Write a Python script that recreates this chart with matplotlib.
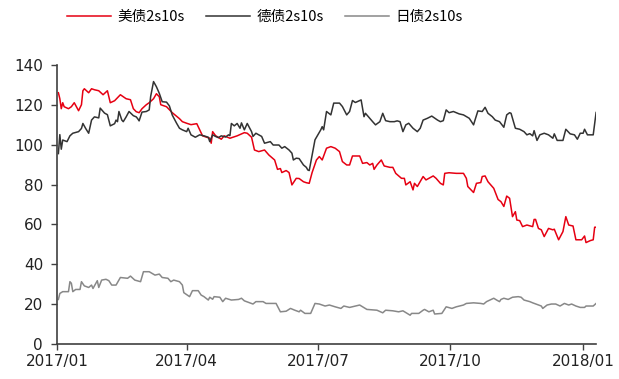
import matplotlib
matplotlib.use("Agg")
import matplotlib.pyplot as plt
import pandas as pd

# US Treasury 2s10s spread (bp)
us_dates = [
    "2017-01-02", "2017-01-03", "2017-01-04", "2017-01-05", "2017-01-06", "2017-01-09",
    "2017-01-11", "2017-01-13", "2017-01-16", "2017-01-18", "2017-01-19", "2017-01-20",
    "2017-01-23", "2017-01-25", "2017-01-27", "2017-01-30", "2017-02-02", "2017-02-05",
    "2017-02-07", "2017-02-10", "2017-02-14", "2017-02-18", "2017-02-21", "2017-02-23",
    "2017-02-25", "2017-02-27", "2017-03-01", "2017-03-04", "2017-03-06", "2017-03-09",
    "2017-03-11", "2017-03-13", "2017-03-14", "2017-03-18", "2017-03-22", "2017-03-27",
    "2017-03-29", "2017-04-01", "2017-04-04", "2017-04-08", "2017-04-10", "2017-04-12",
    "2017-04-17", "2017-04-18", "2017-04-19", "2017-04-21", "2017-04-25", "2017-04-27",
    "2017-05-01", "2017-05-03", "2017-05-06", "2017-05-11", "2017-05-13", "2017-05-16",
    "2017-05-18", "2017-05-21", "2017-05-25", "2017-05-28", "2017-06-01", "2017-06-03",
    "2017-06-05", "2017-06-06", "2017-06-09", "2017-06-11", "2017-06-13", "2017-06-16",
    "2017-06-18", "2017-06-21", "2017-06-23", "2017-06-25", "2017-06-27", "2017-06-30",
    "2017-07-02", "2017-07-04", "2017-07-07", "2017-07-10", "2017-07-13", "2017-07-16",
    "2017-07-18", "2017-07-21", "2017-07-23", "2017-07-25", "2017-07-27", "2017-07-30",
    "2017-08-01", "2017-08-04", "2017-08-06", "2017-08-08", "2017-08-09", "2017-08-11",
    "2017-08-14", "2017-08-16", "2017-08-20", "2017-08-22", "2017-08-24", "2017-08-28",
    "2017-08-30", "2017-08-31", "2017-09-03", "2017-09-05", "2017-09-06", "2017-09-08",
    "2017-09-12", "2017-09-14", "2017-09-19", "2017-09-21", "2017-09-24", "2017-09-26",
    "2017-09-27", "2017-09-30", "2017-10-05", "2017-10-10", "2017-10-12", "2017-10-13",
    "2017-10-17", "2017-10-19", "2017-10-22", "2017-10-23", "2017-10-25", "2017-10-27",
    "2017-10-31", "2017-11-03", "2017-11-05", "2017-11-07", "2017-11-09", "2017-11-11",
    "2017-11-13", "2017-11-15", "2017-11-16", "2017-11-18", "2017-11-20", "2017-11-23",
    "2017-11-27", "2017-11-28", "2017-11-29", "2017-12-01", "2017-12-03", "2017-12-05",
    "2017-12-08", "2017-12-11", "2017-12-12", "2017-12-15", "2017-12-18", "2017-12-20",
    "2017-12-22", "2017-12-25", "2017-12-27", "2017-12-31", "2018-01-02", "2018-01-03",
    "2018-01-06", "2018-01-08", "2018-01-09", "2018-01-10",
]
us_values = [
    126, 123, 118, 121, 119, 118,
    119, 121, 117, 120, 127, 128,
    126, 128, 127.5, 127, 125, 127,
    121, 122, 125, 123, 122.5, 118,
    116.5, 116, 118, 120, 121, 123,
    125.5, 124, 120, 119, 116, 113,
    111.5, 110.7, 110, 110.5, 107.4, 104.4,
    103.2, 100.7, 106.5, 104.5, 102.7, 104.4,
    103.2, 103.7, 104.4, 106, 105.7, 103.7,
    97.3, 96.5, 97.3, 94.8, 92.3, 87.6,
    88, 86, 87, 86, 79.8, 83.1,
    83, 81.4, 80.9, 80.6, 86, 92.3,
    94, 92.3, 98.2, 99, 98.2, 96.5,
    91.5, 89.8, 89.8, 94.3, 94.3, 94.3,
    90.6, 91, 89.8, 90.6, 87.6, 89.8,
    92.3, 89.3, 88.6, 88.6, 85.6, 83.1,
    83.1, 79.8, 81.4, 77.3, 80.6, 79,
    84, 82.3, 84.3, 83.1, 80.6, 79.8,
    85.6, 85.9, 85.6, 85.6, 83.1, 79,
    76, 80.6, 81, 84, 84.3, 81.4,
    78.1, 72.5, 71.4, 69, 74.2, 73.1,
    63.9, 66.4, 62.2, 61.9, 58.9, 59.7,
    58.9, 62.5, 62.5, 58, 57.3, 53.9,
    58, 57.3, 57.6, 52.3, 56.4, 63.9,
    59.7, 59.2, 52.3, 52.3, 54.2, 50.9,
    51.9, 52.3, 58.6, 58.6,
]

# German Bund 2s10s spread (bp)
de_dates = [
    "2017-01-02", "2017-01-03", "2017-01-04", "2017-01-05", "2017-01-08", "2017-01-10",
    "2017-01-12", "2017-01-16", "2017-01-18", "2017-01-19", "2017-01-21", "2017-01-23",
    "2017-01-25", "2017-01-27", "2017-01-30", "2017-01-31", "2017-02-03", "2017-02-05",
    "2017-02-07", "2017-02-10", "2017-02-11", "2017-02-12", "2017-02-13", "2017-02-15",
    "2017-02-16", "2017-02-18", "2017-02-20", "2017-02-23", "2017-02-25", "2017-02-26",
    "2017-02-27", "2017-03-01", "2017-03-04", "2017-03-06", "2017-03-07", "2017-03-09",
    "2017-03-11", "2017-03-13", "2017-03-15", "2017-03-18", "2017-03-20", "2017-03-22",
    "2017-03-25", "2017-03-27", "2017-03-29", "2017-04-01", "2017-04-02", "2017-04-04",
    "2017-04-07", "2017-04-10", "2017-04-13", "2017-04-16", "2017-04-17", "2017-04-19",
    "2017-04-21", "2017-04-23", "2017-04-25", "2017-04-28", "2017-04-30", "2017-05-01",
    "2017-05-02", "2017-05-04", "2017-05-06", "2017-05-08", "2017-05-09", "2017-05-11",
    "2017-05-13", "2017-05-16", "2017-05-17", "2017-05-19", "2017-05-23", "2017-05-25",
    "2017-05-29", "2017-05-31", "2017-06-04", "2017-06-06", "2017-06-08", "2017-06-11",
    "2017-06-13", "2017-06-14", "2017-06-16", "2017-06-18", "2017-06-21", "2017-06-23",
    "2017-06-24", "2017-06-25", "2017-06-27", "2017-06-29", "2017-07-01", "2017-07-03",
    "2017-07-04", "2017-07-05", "2017-07-07", "2017-07-10", "2017-07-12", "2017-07-16",
    "2017-07-18", "2017-07-21", "2017-07-23", "2017-07-25", "2017-07-27", "2017-07-31",
    "2017-08-02", "2017-08-03", "2017-08-05", "2017-08-08", "2017-08-10", "2017-08-13",
    "2017-08-15", "2017-08-17", "2017-08-20", "2017-08-23", "2017-08-25", "2017-08-27",
    "2017-08-29", "2017-08-31", "2017-09-02", "2017-09-05", "2017-09-08", "2017-09-10",
    "2017-09-12", "2017-09-15", "2017-09-18", "2017-09-22", "2017-09-24", "2017-09-26",
    "2017-09-28", "2017-09-30", "2017-10-03", "2017-10-07", "2017-10-10", "2017-10-14",
    "2017-10-17", "2017-10-18", "2017-10-20", "2017-10-23", "2017-10-25", "2017-10-27",
    "2017-10-30", "2017-11-01", "2017-11-04", "2017-11-07", "2017-11-09", "2017-11-11",
    "2017-11-12", "2017-11-15", "2017-11-18", "2017-11-21", "2017-11-23", "2017-11-25",
    "2017-11-27", "2017-11-28", "2017-11-30", "2017-12-02", "2017-12-05", "2017-12-08",
    "2017-12-11", "2017-12-12", "2017-12-14", "2017-12-18", "2017-12-20", "2017-12-23",
    "2017-12-26", "2017-12-28", "2017-12-30", "2018-01-01", "2018-01-02", "2018-01-04",
    "2018-01-08", "2018-01-10",
]
de_values = [
    95.5, 105, 97.7, 102.3, 101.5, 104.4,
    105.7, 106.5, 108.1, 110.6, 108, 105.7,
    112.3, 113.9, 113.4, 118.3, 115.8, 115,
    109.4, 110.5, 112.3, 111.5, 116.6, 112.3,
    111.5, 113.9, 116.6, 114.5, 113.9, 113,
    111.9, 116.3, 116.6, 117.4, 124.1, 131.6,
    129, 125.7, 121.5, 121.3, 119.4, 114.8,
    110.7, 108.2, 107.4, 106.5, 108.2, 104.9,
    103.7, 104.9, 104.4, 103.7, 101.5, 104.9,
    104.1, 103.5, 104.4, 103.8, 104.9, 104.5,
    110.6, 109.4, 110.6, 108.2, 110.9, 107.4,
    110.6, 106.5, 104.1, 105.7, 104.1, 100.7,
    101.5, 99.8, 99.8, 98.2, 99, 97.3,
    95.7, 92.3, 93.2, 93, 89.8, 88.6,
    87.3, 87, 94.8, 102.4, 104.9, 107.4,
    109, 107.4, 116.6, 114.9, 120.8, 120.8,
    119.1, 114.9, 116.6, 122.1, 121.1, 122.4,
    114, 115.7, 114, 111.5, 109.9, 111.5,
    115.7, 112, 111.5, 111.5, 111.9, 111.5,
    106.5, 109.9, 110.7, 108.2, 106.5, 108.2,
    112.3, 113.2, 114.3, 112.3, 111.5, 112,
    117.4, 116, 116.6, 115.4, 114.9, 113.2,
    109.9, 112.3, 116.9, 116.6, 118.7, 115.7,
    114, 112.3, 111.5, 108.7, 114.9, 116,
    115.7, 108.2, 107.7, 106.5, 104.9, 105.5,
    104.4, 107, 102.1, 104.9, 105.7, 104.9,
    103.2, 105.4, 102.1, 102.1, 107.7, 105.4,
    104.9, 102.7, 105.7, 105.7, 107.7, 104.9,
    104.9, 116.1,
]

# Japanese JGB 2s10s spread (bp)
jp_dates = [
    "2017-01-02", "2017-01-03", "2017-01-05", "2017-01-09", "2017-01-10", "2017-01-11",
    "2017-01-12", "2017-01-14", "2017-01-17", "2017-01-18", "2017-01-20", "2017-01-23",
    "2017-01-25", "2017-01-26", "2017-01-29", "2017-01-30", "2017-02-01", "2017-02-04",
    "2017-02-06", "2017-02-08", "2017-02-11", "2017-02-14", "2017-02-19", "2017-02-21",
    "2017-02-24", "2017-02-28", "2017-03-02", "2017-03-06", "2017-03-10", "2017-03-13",
    "2017-03-15", "2017-03-19", "2017-03-21", "2017-03-23", "2017-03-27", "2017-03-29",
    "2017-03-30", "2017-04-03", "2017-04-05", "2017-04-09", "2017-04-11", "2017-04-13",
    "2017-04-16", "2017-04-17", "2017-04-19", "2017-04-20", "2017-04-24", "2017-04-26",
    "2017-04-28", "2017-05-02", "2017-05-07", "2017-05-09", "2017-05-11", "2017-05-17",
    "2017-05-19", "2017-05-24", "2017-05-26", "2017-06-02", "2017-06-05", "2017-06-09",
    "2017-06-12", "2017-06-15", "2017-06-18", "2017-06-19", "2017-06-22", "2017-06-26",
    "2017-06-29", "2017-07-02", "2017-07-06", "2017-07-09", "2017-07-13", "2017-07-17",
    "2017-07-19", "2017-07-23", "2017-07-27", "2017-07-30", "2017-08-04", "2017-08-11",
    "2017-08-15", "2017-08-17", "2017-08-22", "2017-08-26", "2017-08-29", "2017-09-03",
    "2017-09-04", "2017-09-09", "2017-09-12", "2017-09-13", "2017-09-16", "2017-09-19",
    "2017-09-20", "2017-09-25", "2017-09-28", "2017-10-02", "2017-10-05", "2017-10-10",
    "2017-10-12", "2017-10-17", "2017-10-22", "2017-10-24", "2017-10-26", "2017-10-31",
    "2017-11-02", "2017-11-04", "2017-11-05", "2017-11-07", "2017-11-10", "2017-11-13",
    "2017-11-17", "2017-11-19", "2017-11-21", "2017-11-25", "2017-11-27", "2017-12-01",
    "2017-12-03", "2017-12-04", "2017-12-07", "2017-12-10", "2017-12-13", "2017-12-16",
    "2017-12-19", "2017-12-22", "2017-12-24", "2017-12-27", "2017-12-30", "2018-01-02",
    "2018-01-03", "2018-01-08", "2018-01-10",
]
jp_values = [
    22.4, 25.4, 26.3, 26.3, 31.3, 30.5,
    26.3, 27.4, 27.4, 31.3, 29.2, 28.4,
    29.6, 27.9, 31.8, 28.4, 32.1, 32.5,
    31.8, 29.6, 29.6, 33.4, 33, 34.1,
    32.1, 31.3, 36.3, 36.3, 34.6, 35.1,
    33.4, 33, 31.3, 32.1, 31.3, 29.6,
    25.8, 23.8, 26.8, 26.8, 24.6, 23.8,
    22.1, 23.5, 22.5, 23.8, 23.5, 21.3,
    23, 22.1, 22.4, 23, 21.7, 20.1,
    21.3, 21.3, 20.4, 20.4, 16.2, 16.5,
    17.9, 17, 16.2, 17, 15.4, 15.4,
    20.4, 20.1, 19.1, 19.6, 18.7, 17.9,
    19.1, 18.4, 19.1, 19.6, 17.4, 17,
    15.7, 17, 16.7, 16.2, 16.7, 14.5,
    15.4, 15.4, 17, 17.4, 16.2, 17,
    15.1, 15.4, 18.7, 17.9, 18.7, 19.6,
    20.4, 20.7, 20.4, 20.1, 21.3, 23,
    22.1, 21.3, 22.4, 23, 22.4, 23.5,
    23.8, 23.5, 22.1, 21.3, 20.7, 19.6,
    19.1, 17.9, 19.6, 20.1, 20.1, 19.1,
    20.4, 19.6, 20.1, 19.1, 18.4, 18.4,
    19.1, 19.1, 20.4,
]

series_labels = ["美债2s10s", "德债2s10s", "日债2s10s"]
series_colors = ["#e60012", "#333333", "#888888"]

x_ticks = ["2017-01-01", "2017-04-01", "2017-07-01", "2017-10-01", "2018-01-01"]
x_tick_labels = ["2017/01", "2017/04", "2017/07", "2017/10", "2018/01"]
y_ticks = [0, 20, 40, 60, 80, 100, 120, 140]

plt.rcParams["font.family"] = ["DejaVu Sans"]

fig = plt.figure(figsize=(6.19, 3.79), dpi=100)
ax = fig.add_axes([0.092, 0.092, 0.871, 0.737])

series = [(us_dates, us_values), (de_dates, de_values), (jp_dates, jp_values)]
for (d, v), lab, col in zip(series, series_labels, series_colors):
    ax.plot(pd.to_datetime(d), v, color=col, lw=1.1, label=lab)

ax.set_ylim(0, 140)
ax.set_yticks(y_ticks)
ax.set_xlim(pd.Timestamp("2017-01-01"), pd.Timestamp("2018-01-10"))
ax.set_xticks(pd.to_datetime(x_ticks))
ax.set_xticklabels(x_tick_labels)

for side in ("top", "right"):
    ax.spines[side].set_visible(False)
for side in ("left", "bottom"):
    ax.spines[side].set_color("#404040")
    ax.spines[side].set_linewidth(1.2)

ax.tick_params(axis="both", direction="out", length=4, width=1.0,
               color="#404040", labelsize=11, labelcolor="#222222")
ax.tick_params(axis="y", pad=6)
ax.tick_params(axis="x", pad=3)

leg = fig.legend(loc="center", bbox_to_anchor=(0.428, 0.955), ncol=3, frameon=False,
                 handlelength=3.0, handletextpad=0.45, columnspacing=1.45,
                 prop={"family": ["Noto Sans CJK SC", "DejaVu Sans"], "size": 10.5})

fig.savefig("out.png", dpi=100)
